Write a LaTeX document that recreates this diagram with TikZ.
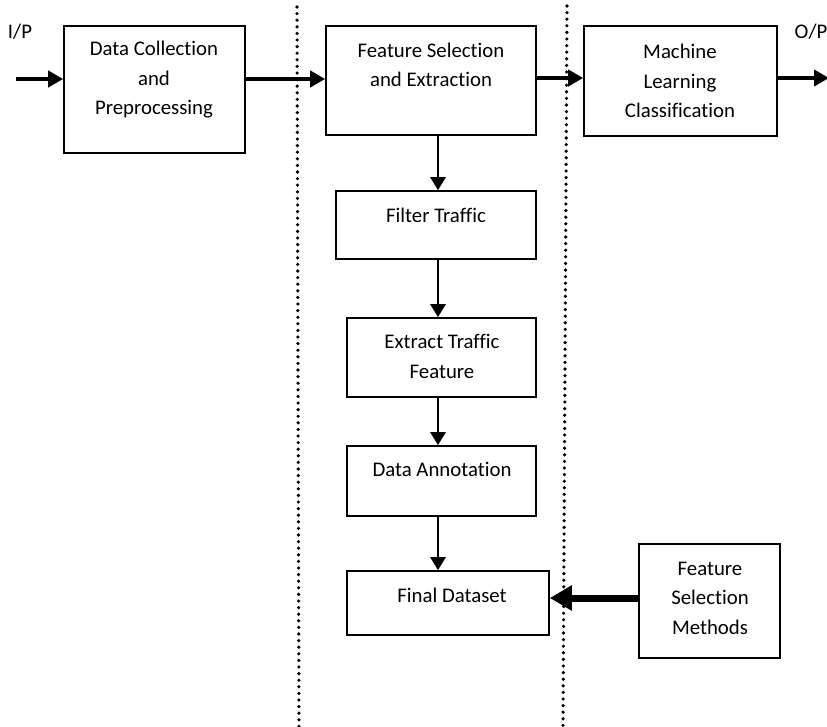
\documentclass[tikz,border=0pt]{standalone}
\usepackage{fontspec}
\setmainfont{Carlito}[Ligatures=NoCommon]
\usetikzlibrary{arrows.meta}
\begin{document}
\begin{tikzpicture}[x=1pt,y=-1pt,
  box/.style={draw,line width=1.6pt,inner sep=0pt},
  txt/.style={align=center,inner sep=0pt,font=\fontsize{20.8}{29.5}\selectfont},
  flow/.style={line width=4pt,-{Triangle[length=15pt,width=16pt]}},
  vflow/.style={line width=2.6pt,-{Triangle[length=13pt,width=15pt]}},
  bigflow/.style={line width=7pt,-{Triangle[length=22pt,width=24pt]}},
  sep/.style={line width=3.6pt,line cap=round,dash pattern=on 0pt off 6.6pt}]
\useasboundingbox (0,0) rectangle (827,727);
% boxes
\node[box,minimum width=181pt,minimum height=127pt] (b1) at (154.5,89.5) {};
\node[box,minimum width=210pt,minimum height=109pt] (b2) at (431,80.5) {};
\node[box,minimum width=193pt,minimum height=110pt] (b3) at (680.5,81) {};
\node[box,minimum width=200pt,minimum height=68pt] (ft) at (436,225) {};
\node[box,minimum width=189pt,minimum height=79pt] (et) at (441.5,357.5) {};
\node[box,minimum width=189pt,minimum height=70pt] (da) at (441.5,481) {};
\node[box,minimum width=202pt,minimum height=64pt] (fd) at (448,603) {};
\node[box,minimum width=141pt,minimum height=114pt] (fsm) at (709.5,601) {};
% texts
\node[txt] (t1) at (154,80) {Data Collection\\and\\Preprocessing};
\node[txt] (t2) at (431,65) {Feature Selection\\and Extraction};
\node[txt] (t3) at (680,81) {Machine\\Learning\\Classification};
\node[txt] (t4) at (436,215) {Filter Traffic};
\node[txt] (t5) at (442,356.5) {Extract Traffic\\Feature};
\node[txt] (t6) at (442,469) {Data Annotation};
\node[txt] (t7) at (452,595) {Final Dataset};
\node[txt] (t8) at (710,598) {Feature\\Selection\\Methods};
\node[txt] (ip) at (20,32) {I/P};
\node[txt] (op) at (811,32) {O/P};
% separators
\coordinate (s1a) at (297,7); \coordinate (s1b) at (299,727);
\coordinate (s2a) at (567,6); \coordinate (s2b) at (563,727);
\draw[sep] (s1a) -- (s1b);
\draw[sep] (s2a) -- (s2b);
% connectors
\coordinate (in) at (16,79);
\coordinate (out) at (829,78);
\coordinate (colx) at (438,0);
\coordinate (fsmy) at (0,598);
\draw[flow] (in) -- (b1.west |- in);
\draw[flow] (b1.east |- in) -- (b2.west |- in);
\draw[flow] (b2.east |- out) -- (b3.west |- out);
\draw[flow] (b3.east |- out) -- (out);
\draw[vflow] (b2.south -| colx) -- (ft.north -| colx);
\draw[vflow] (ft.south -| colx) -- (et.north -| colx);
\draw[vflow] (et.south -| colx) -- (da.north -| colx);
\draw[vflow] (da.south -| colx) -- (fd.north -| colx);
\draw[bigflow] (fsm.west |- fsmy) -- (fd.east |- fsmy);
\end{tikzpicture}
\end{document}
